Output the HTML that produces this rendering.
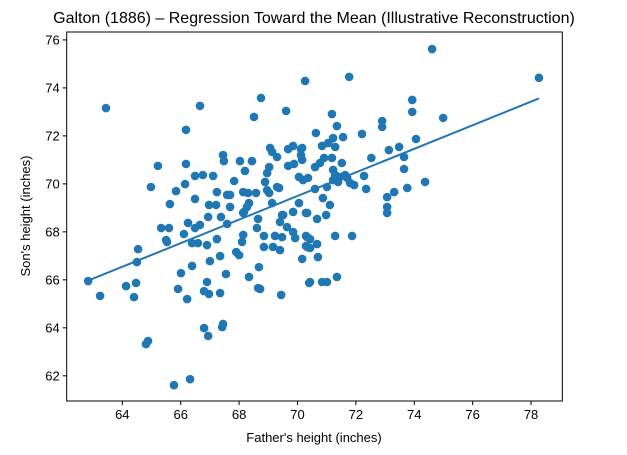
<!DOCTYPE html>
<html><head><meta charset="utf-8"><style>
body{margin:0;background:#fff;}
svg{display:block;font-family:"Liberation Sans","DejaVu Sans",sans-serif;}
</style></head><body>
<svg id="chart" width="627" height="455" xmlns="http://www.w3.org/2000/svg">
<rect width="627" height="455" fill="#fff"/>
<text x="314" y="23" text-anchor="middle" font-size="16" fill="#000">Galton (1886) – Regression Toward the Mean (Illustrative Reconstruction)</text>
<g id="marks"></g>
<g id="axes"></g>
<text x="314" y="442" text-anchor="middle" font-size="13" fill="#000">Father's height (inches)</text>
<text x="0" y="0" transform="translate(30,216) rotate(-90)" text-anchor="middle" font-size="13" fill="#000">Son's height (inches)</text>
</svg>
<script>
const fatherHeights = [62.83,63.24,63.44,64.13,64.47,64.40,64.50,64.54,64.81,64.88,64.98,65.22,65.33,65.60,65.50,65.53,65.63,65.84,65.77,66.32,65.91,66.01,66.22,66.39,66.11,66.25,66.49,66.66,66.39,66.59,66.90,66.94,67.24,67.38,67.59,67.00,67.35,67.55,66.90,66.80,66.97,67.35,66.80,66.94,67.42,67.45,67.90,68.00,68.34,68.68,68.65,68.72,68.14,68.10,68.14,68.65,68.61,68.85,68.85,69.16,69.40,69.23,69.47,69.40,69.51,69.64,69.44,69.85,69.92,70.16,70.33,70.33,70.33,70.40,66.66,66.18,68.75,68.51,69.61,70.26,66.18,66.49,66.76,67.11,66.15,67.45,67.48,68.03,68.44,68.20,67.83,66.49,67.24,67.59,67.69,68.14,68.31,68.58,66.97,67.21,67.69,68.34,68.27,68.17,69.06,69.13,69.30,68.96,69.03,68.89,68.96,69.03,69.30,69.37,69.13,69.68,69.85,69.68,69.88,70.12,70.12,70.16,70.05,70.19,70.36,70.05,69.47,69.85,70.29,74.61,78.27,71.77,73.93,73.93,74.99,72.90,72.90,71.18,71.35,70.63,72.21,71.56,70.84,71.05,71.22,71.29,74.06,73.48,73.13,70.16,72.53,73.65,70.60,70.77,70.91,71.18,71.52,73.65,71.22,71.29,71.46,71.63,71.22,71.39,71.70,71.80,71.94,72.28,72.35,74.37,73.76,73.31,73.07,70.60,71.01,70.87,71.11,73.07,73.07,70.67,70.98,70.29,70.43,70.67,70.29,70.43,71.29,71.87,70.70,70.43,70.84,71.01,71.35];
const sonHeights = [65.95,65.33,73.16,65.74,65.87,65.28,66.74,67.28,63.32,63.45,69.87,70.75,68.16,68.16,67.66,67.58,69.16,69.70,61.61,61.86,65.62,66.28,65.20,66.58,67.91,68.37,68.16,68.29,67.53,67.53,67.45,68.62,67.70,68.62,68.33,66.78,66.99,66.24,65.91,65.53,65.41,65.45,63.99,63.66,64.03,64.16,67.16,67.03,66.12,66.53,65.66,65.62,67.87,67.58,68.79,68.54,68.16,67.83,67.37,67.37,67.24,67.83,67.78,68.41,68.70,68.20,65.37,67.99,67.74,66.87,68.79,67.78,67.37,65.87,73.25,72.25,73.58,72.79,73.04,74.29,70.83,70.33,70.37,70.33,69.99,71.20,70.95,70.95,70.95,70.54,70.12,69.37,69.66,69.54,69.54,69.66,69.62,69.62,69.12,69.12,69.04,69.20,69.04,68.83,71.50,71.33,71.12,70.45,70.70,70.08,69.74,69.62,69.87,69.83,69.20,71.45,71.58,70.75,70.83,71.45,71.20,71.00,70.29,70.16,70.25,69.20,68.70,68.83,68.79,75.62,74.42,74.46,73.50,73.00,72.75,72.62,72.37,72.91,72.41,72.12,72.08,71.95,71.58,71.70,71.91,71.54,71.87,71.54,71.41,71.50,71.08,71.12,70.70,70.87,71.08,71.08,70.87,70.62,70.58,70.37,70.29,70.37,70.16,70.08,70.25,70.04,69.95,70.33,69.79,70.08,69.83,69.66,69.45,69.79,69.87,69.41,69.12,69.04,68.79,68.54,68.70,67.83,67.70,67.49,67.41,67.33,67.83,67.83,66.95,65.91,65.91,65.91,66.12];
const lineX = [62.83, 78.27];
const lineY = [65.97, 73.56];
const xTicks = [64,66,68,70,72,74,76,78];
const yTicks = [62,64,66,68,70,72,74,76];
const xDomain = [62.095, 79.07];
const yDomain = [60.95, 76.33];

const L=66.7,R=562.3,T=32,B=401;
const NS="http://www.w3.org/2000/svg";
function sx(v){return L+(v-xDomain[0])/(xDomain[1]-xDomain[0])*(R-L);}
function sy(v){return B-(v-yDomain[0])/(yDomain[1]-yDomain[0])*(B-T);}
function mk(tag,attrs,parent){const e=document.createElementNS(NS,tag);for(const k in attrs)e.setAttribute(k,attrs[k]);parent.appendChild(e);return e;}
const marks=document.getElementById('marks');
for(let i=0;i<fatherHeights.length;i++){
  const c=mk('circle',{cx:sx(fatherHeights[i]),cy:sy(sonHeights[i]),r:4.3,fill:'#1f77b4'},marks);
  
  
}
const ln=mk('line',{x1:sx(lineX[0]),y1:sy(lineY[0]),x2:sx(lineX[1]),y2:sy(lineY[1]),stroke:'#1f77b4','stroke-width':2},marks);


const axes=document.getElementById('axes');
const fr=mk('rect',{x:L,y:T,width:R-L,height:B-T,fill:'none',stroke:'#000','stroke-width':1},axes);


xTicks.forEach(t=>{
  const x=sx(t);
  const tk=mk('line',{x1:x,y1:B,x2:x,y2:B+4,stroke:'#000'},axes);
  
  
  const lb=mk('text',{x:x,y:B+18,'text-anchor':'middle','font-size':13,fill:'#000'},axes);
  lb.textContent=t;
  
  
});
yTicks.forEach(t=>{
  const y=sy(t);
  const tk=mk('line',{x1:L-4,y1:y,x2:L,y2:y,stroke:'#000'},axes);
  
  
  const lb=mk('text',{x:L-7,y:y+4.5,'text-anchor':'end','font-size':13,fill:'#000'},axes);
  lb.textContent=t;
  
  
});
</script>
</body></html>
